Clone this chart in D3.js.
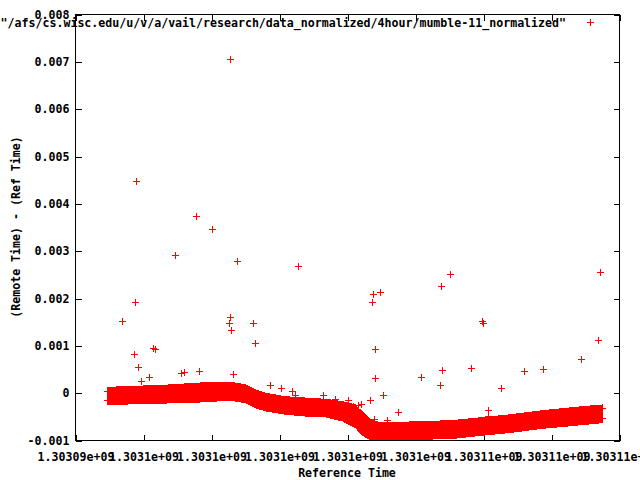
<!DOCTYPE html>
<html>
<head>
<meta charset="utf-8">
<script src="https://cdn.jsdelivr.net/npm/d3@7"></script>
<style>
html,body{margin:0;padding:0;background:#fff;}
text{font-family:"DejaVu Sans Mono","Liberation Mono",monospace;font-weight:bold;font-size:11.6px;fill:#000;}
</style>
</head>
<body>
<svg id="chart" width="640" height="480"></svg>
<script>
// ---- data ----
const seriesName = "\"/afs/cs.wisc.edu/u/v/a/vail/research/data_normalized/4hour/mumble-11_normalized\"";
const xDomain = [1303094000, 1303110000];
const yDomain = [-0.001, 0.008];
const xTickValues = [1303094000,1303096000,1303098000,1303100000,1303102000,1303104000,1303106000,1303108000,1303110000];
const xTickLabels = ["1.30309e+09","1.3031e+09","1.3031e+09","1.3031e+09","1.3031e+09","1.3031e+09","1.30311e+09","1.30311e+09","1.30311e+09"];
const yTickValues = [-0.001,0,0.001,0.002,0.003,0.004,0.005,0.006,0.007,0.008];
const yTickLabels = ["-0.001","0","0.001","0.002","0.003","0.004","0.005","0.006","0.007","0.008"];

// dense band of samples: time, upper and lower envelope of the values
const bandTime = [1303094941,1303095618,1303096706,1303097676,1303098412,1303098706,1303099000,1303099294,1303099588,1303100176,1303100765,1303101353,1303101853,1303102235,1303102382,1303102676,1303102971,1303103265,1303104059,1303105029,1303105765,1303106735,1303107735,1303108706,1303109500];
const bandHigh = [0.00004,0.000056,0.000088,0.00013,0.000141,0.00013,0.000088,-0.0000175,-0.000087,-0.000159,-0.000187,-0.000214,-0.000265,-0.000334,-0.00044,-0.000651,-0.000708,-0.000708,-0.000687,-0.000666,-0.000615,-0.000546,-0.000455,-0.000383,-0.000334];
const bandLow  = [-0.000151,-0.000144,-0.000123,-0.000102,-0.00007,-0.000081,-0.000117,-0.000222,-0.000292,-0.000362,-0.000398,-0.000419,-0.000503,-0.000645,-0.000778,-0.000905,-0.000926,-0.000926,-0.00089,-0.000877,-0.00082,-0.000751,-0.000658,-0.000594,-0.000539];

// isolated points
const outTime = [1303095382,1303095794,1303095765,1303095735,1303095853,1303095941,1303096176,1303096294,1303096353,1303096941,1303097118,1303097206,1303097559,1303097647,1303098029,1303098559,1303098559,1303098529,1303098588,1303098647,1303098765,1303099235,1303099294,1303099735,1303100059,1303100382,1303100471,1303100559,1303101294,1303101647,1303102029,1303102176,1303102324,1303102412,1303102676,1303102735,1303102765,1303102971,1303102824,1303102824,1303103059,1303102794,1303103176,1303103500,1303104176,1303104735,1303104794,1303104765,1303105029,1303105647,1303105971,1303106000,1303106147,1303106160,1303106529,1303107206,1303107765,1303108882,1303109382,1303109441];
const outValue = [0.001514,0.004472,0.001916,0.000817,0.000542,0.000247,0.000331,0.000944,0.000923,0.002909,0.000416,0.000437,0.003732,0.000458,0.003458,0.007049,0.001599,0.001472,0.001324,0.000394,0.002782,0.001472,0.001049,0.000162,0.0000987,0.0000353,-0.0000492,0.002676,-0.0000492,-0.000134,-0.000155,-0.000282,-0.00026,-0.000239,-0.000155,0.001916,0.002085,0.002127,0.000923,0.00031,-0.0000492,-0.000556,-0.000577,-0.000408,0.000331,0.000162,0.000479,0.002254,0.002507,0.000521,0.001514,0.001472,-0.000366,-0.000493,0.0000987,0.000458,0.0005,0.000711,0.001113,0.002549];

// ---- drawing ----
const W = 640, H = 480;
const L = 75.5, R = 619.5, T = 14.5, B = 440.5;
const red = "#ff0000";
const svg = d3.select("#chart");

const x = d3.scaleLinear().domain(xDomain).range([L, R]);
const y = d3.scaleLinear().domain(yDomain).range([B, T]);

svg.append("defs").append("clipPath").attr("id","clip")
  .append("rect").attr("x", L).attr("y", T).attr("width", R-L).attr("height", B-T);

// axes (ticks drawn inward, mirrored)
const tickLen = 6;
const fmtX = (d,i) => xTickLabels[i];
const fmtY = (d,i) => yTickLabels[i];

const gx = svg.append("g").attr("transform", `translate(0,${B})`)
  .call(d3.axisBottom(x).tickValues(xTickValues).tickFormat(fmtX).tickSizeInner(-tickLen).tickSizeOuter(0).tickPadding(12));
const gxt = svg.append("g").attr("transform", `translate(0,${T})`)
  .call(d3.axisTop(x).tickValues(xTickValues).tickFormat("").tickSizeInner(-tickLen).tickSizeOuter(0));
const gy = svg.append("g").attr("transform", `translate(${L},0)`)
  .call(d3.axisLeft(y).tickValues(yTickValues).tickFormat(fmtY).tickSizeInner(-tickLen).tickSizeOuter(0).tickPadding(6));
const gyr = svg.append("g").attr("transform", `translate(${R},0)`)
  .call(d3.axisRight(y).tickValues(yTickValues).tickFormat("").tickSizeInner(-tickLen).tickSizeOuter(0));
[gx,gxt,gy,gyr].forEach(g => {
  g.select(".domain").remove();
  g.selectAll("line").attr("stroke","#000").attr("stroke-width",1).attr("shape-rendering","crispEdges");
  g.selectAll("text").attr("font-family",null).attr("font-size",null).attr("fill","#000");
});

const plot = svg.append("g").attr("clip-path","url(#clip)");

// band
const pad = 4.5;
const band = bandTime.map((t,i) => ({t, hi: bandHigh[i], lo: bandLow[i]}));
plot.append("path")
  .datum(band)
  .attr("fill", red)
  .attr("shape-rendering","crispEdges")
  .attr("d", d3.area()
    .x(d => x(d.t))
    .y0(d => y(d.lo) + pad)
    .y1(d => y(d.hi) - pad));

const cross = "M-3.5,0H3.5M0,-3.5V3.5";
const px = v => Math.round(v - 0.5) + 0.5;

// crosses along band edges
const edgePts = [];
band.forEach(d => { edgePts.push([d.t, d.hi]); edgePts.push([d.t, d.lo]); });
plot.selectAll("path.edge").data(edgePts).enter().append("path")
  .attr("class","edge")
  .attr("transform", d => `translate(${px(x(d[0]))},${px(y(d[1]))})`)
  .attr("d", cross).attr("stroke", red).attr("stroke-width", 1).attr("fill","none");

// isolated points
const pts = outTime.map((t,i) => [t, outValue[i]]);
plot.selectAll("path.pt").data(pts).enter().append("path")
  .attr("class","pt")
  .attr("transform", d => `translate(${px(x(d[0]))},${px(y(d[1]))})`)
  .attr("d", cross).attr("stroke", red).attr("stroke-width", 1).attr("fill","none")
  .attr("shape-rendering","crispEdges");

// frame
svg.append("rect").attr("x", L).attr("y", T).attr("width", R-L).attr("height", B-T)
  .attr("fill","none").attr("stroke","#000").attr("stroke-width",1).attr("shape-rendering","crispEdges");

// key
svg.append("text").attr("x", 566).attr("y", 27).attr("text-anchor","end").text(seriesName);
svg.append("path").attr("transform","translate(590.5,22.5)").attr("d", cross)
  .attr("stroke", red).attr("stroke-width",1).attr("fill","none").attr("shape-rendering","crispEdges");

// axis titles
svg.append("text").attr("x", 347).attr("y", 477).attr("text-anchor","middle").text("Reference Time");
svg.append("text").attr("transform","translate(20,227) rotate(-90)").attr("text-anchor","middle").text("(Remote Time) - (Ref Time)");
</script>
</body>
</html>
